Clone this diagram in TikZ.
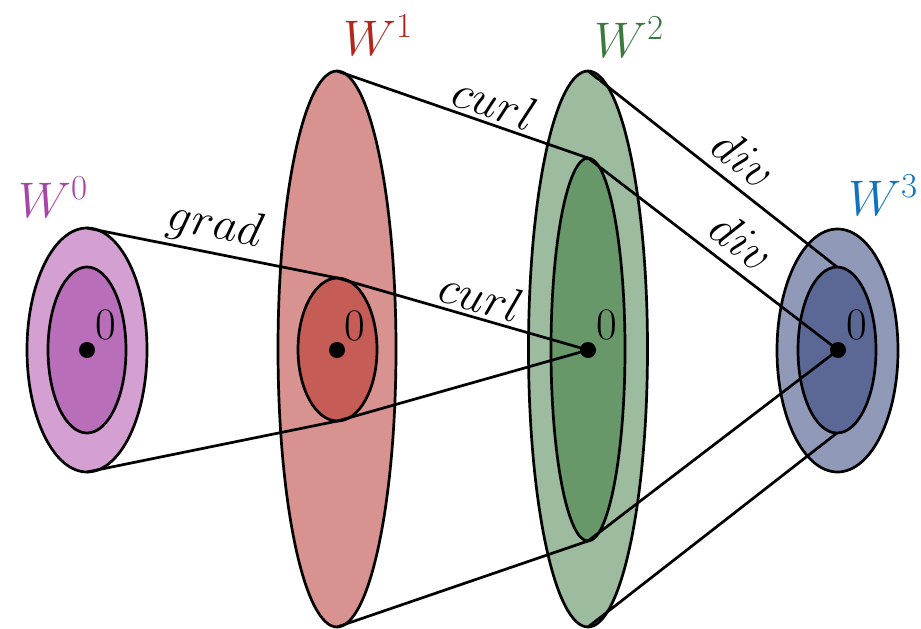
\RequirePackage{fix-cm}
\documentclass[tikz,border=0pt]{standalone}
\usetikzlibrary{shapes.geometric,calc}
\definecolor{pOut}{HTML}{D4A0D2}
\definecolor{pIn}{HTML}{B96EB9}
\definecolor{rOut}{HTML}{D8928F}
\definecolor{rIn}{HTML}{C55C56}
\definecolor{gOut}{HTML}{9DBB9E}
\definecolor{gIn}{HTML}{689769}
\definecolor{bOut}{HTML}{9099B8}
\definecolor{bIn}{HTML}{5B6896}
\definecolor{pTxt}{HTML}{A746A8}
\definecolor{rTxt}{HTML}{B3261E}
\definecolor{gTxt}{HTML}{3B7A3D}
\definecolor{bTxt}{HTML}{1073C0}
\begin{document}
\begin{tikzpicture}[x=1pt,y=1pt,line width=2.7pt,
  ell/.style={ellipse, draw=black, inner sep=0pt, outer sep=0pt},
  dotn/.style={circle, fill=black, inner sep=0pt, minimum size=16pt},
  zero/.style={anchor=base west, inner sep=0pt, font=\fontsize{45}{48}\selectfont},
  wlab/.style={inner sep=0pt, font=\fontsize{50}{54}\selectfont},
  elab/.style={sloped, above, inner sep=4pt, font=\fontsize{48}{52}\selectfont},
  dlab/.style={elab, inner sep=10pt}]
\useasboundingbox (0,0) rectangle (921,-629);
% W0
\node[ell, fill=pOut, minimum width=120pt, minimum height=244pt] (W0o) at (87,-350) {};
\node[ell, fill=pIn, minimum width=78pt, minimum height=166pt] (W0i) at (87,-350) {};
% W1
\node[ell, fill=rOut, minimum width=118pt, minimum height=556pt] (W1o) at (337,-349) {};
\node[ell, fill=rIn, minimum width=79pt, minimum height=143pt] (W1i) at (337.5,-349.5) {};
% W2
\node[ell, fill=gOut, minimum width=119pt, minimum height=556pt] (W2o) at (588,-349) {};
\node[ell, fill=gIn, minimum width=74pt, minimum height=383pt] (W2i) at (588,-349.5) {};
% W3
\node[ell, fill=bOut, minimum width=121pt, minimum height=243pt] (W3o) at (837.5,-350.5) {};
\node[ell, fill=bIn, minimum width=78pt, minimum height=166pt] (W3i) at (837,-350) {};
% dots
\node[dotn] (d0) at (87,-350) {};
\node[dotn] (d1) at (337,-350) {};
\node[dotn] (d2) at (588,-350) {};
\node[dotn] (d3) at (838,-350) {};
% zeros
\node[zero] (z0) at ($(d0.center)+(7,11)$) {0};
\node[zero] (z1) at ($(d1.center)+(6,10)$) {0};
\node[zero] (z2) at ($(d2.center)+(7,11)$) {0};
\node[zero] (z3) at ($(d3.center)+(7,11)$) {0};
% connectors
\draw (W0o.north) -- node[elab, pos=0.49] {$grad$} (W1i.north);
\draw (W0o.south) -- (W1i.south);
\draw (W1o.north) -- node[elab, pos=0.6] {$curl$} (W2i.north);
\draw (W1o.south) -- (W2i.south);
\draw (W1i.north) -- node[elab, pos=0.55] {$curl$} (d2.center);
\draw (W1i.south) -- (d2.center);
\draw (W2o.north) -- node[dlab, pos=0.56] {$div$} (W3i.north);
\draw (W2i.north) -- node[dlab, pos=0.55] {$div$} (d3.center);
\draw (W2i.south) -- (d3.center);
\draw (W2o.south) -- (W3i.south);
% labels
\node[wlab, text=pTxt] (L0) at (53,-197) {$W^0$};
\node[wlab, text=rTxt] (L1) at (378,-35) {$W^1$};
\node[wlab, text=gTxt] (L2) at (629,-37) {$W^2$};
\node[wlab, text=bTxt] (L3) at (883,-195) {$W^3$};
\end{tikzpicture}
\end{document}
